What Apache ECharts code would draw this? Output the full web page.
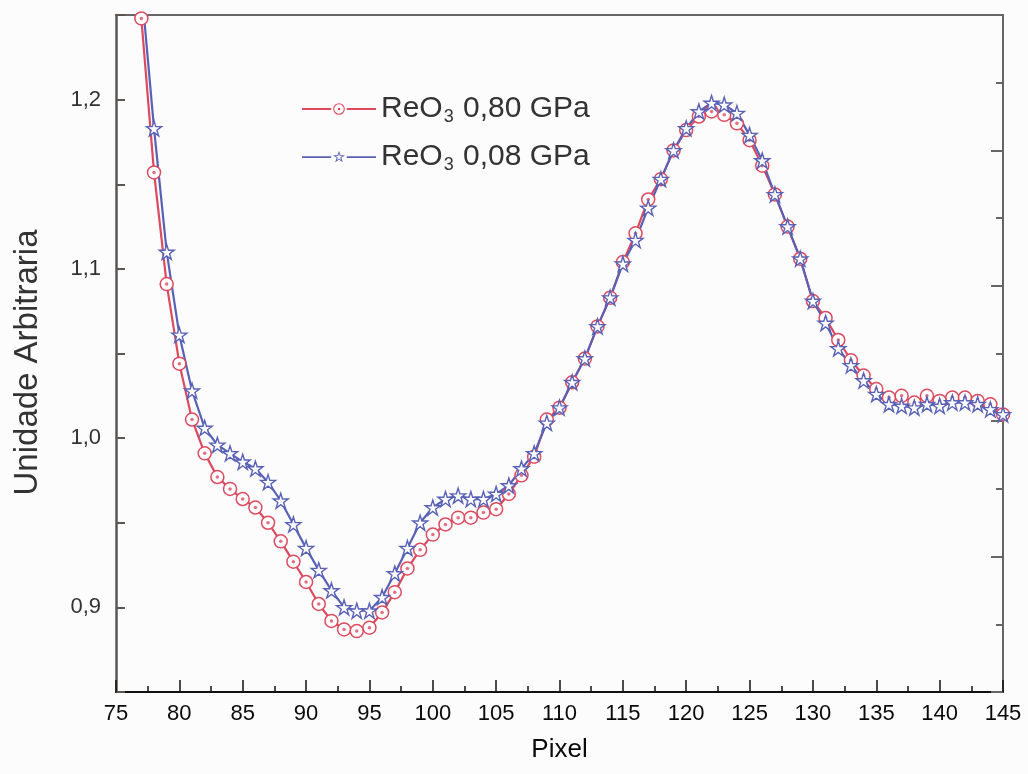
<!DOCTYPE html>
<html>
<head>
<meta charset="utf-8">
<script src="https://cdn.jsdelivr.net/npm/echarts@6/dist/echarts.min.js"></script>
<style>
  html, body { margin: 0; padding: 0; background: #fcfcfd; }
  #main { width: 1028px; height: 774px; }
</style>
</head>
<body>
<div id="main"></div>
<script>
// eixo x: pixel
var pixels = [76, 77, 78, 79, 80, 81, 82, 83, 84, 85, 86, 87, 88, 89, 90, 91, 92, 93, 94, 95,
  96, 97, 98, 99, 100, 101, 102, 103, 104, 105, 106, 107, 108, 109, 110, 111, 112, 113, 114, 115,
  116, 117, 118, 119, 120, 121, 122, 123, 124, 125, 126, 127, 128, 129, 130, 131, 132, 133, 134, 135,
  136, 137, 138, 139, 140, 141, 142, 143, 144, 145]

// ReO3 0,80 GPa (circulos)
var ua080 = [1.33, 1.248, 1.157, 1.091, 1.044, 1.011, 0.991, 0.977, 0.970, 0.964, 0.959, 0.950, 0.939, 0.927, 0.915, 0.902, 0.892, 0.887, 0.886, 0.888,
  0.897, 0.909, 0.923, 0.934, 0.943, 0.949, 0.953, 0.953, 0.956, 0.958, 0.967, 0.978, 0.989, 1.011, 1.018, 1.033, 1.047, 1.066, 1.083, 1.104,
  1.121, 1.141, 1.153, 1.170, 1.182, 1.190, 1.193, 1.191, 1.186, 1.176, 1.161, 1.144, 1.125, 1.106, 1.081, 1.071, 1.058, 1.046, 1.037, 1.029,
  1.024, 1.025, 1.021, 1.025, 1.022, 1.024, 1.024, 1.022, 1.020, 1.014]

// ReO3 0,08 GPa (estrelas)
var ua008 = [1.36, 1.267, 1.183, 1.110, 1.061, 1.028, 1.006, 0.996, 0.991, 0.986, 0.982, 0.974, 0.963, 0.949, 0.935, 0.922, 0.910, 0.900, 0.898, 0.898,
  0.906, 0.920, 0.935, 0.950, 0.959, 0.964, 0.966, 0.964, 0.964, 0.967, 0.972, 0.982, 0.991, 1.009, 1.018, 1.033, 1.047, 1.066, 1.083, 1.103,
  1.117, 1.136, 1.153, 1.170, 1.183, 1.193, 1.198, 1.197, 1.192, 1.179, 1.164, 1.144, 1.125, 1.106, 1.081, 1.068, 1.053, 1.043, 1.034, 1.026,
  1.020, 1.019, 1.018, 1.020, 1.019, 1.021, 1.021, 1.020, 1.017, 1.014]

var seriesNames = ['ReO3 0,80 GPa', 'ReO3 0,08 GPa']
var xTicks = { min: 75, max: 145, step: 5 }
var yTicks = { min: 0.85, max: 1.25, step: 0.05 }

var red = '#dc4a5e'
var blue = '#5861b6'
var font = 'Liberation Sans, Arial, sans-serif'

// estrela: pontos do contorno
function starPts(cx, cy, R) {
  var pts = []
  for (var i = 0; i < 10; i++) {
    var a = -Math.PI / 2 + i * Math.PI / 5
    var r = i % 2 ? R * 0.382 : R
    pts.push([cx + r * Math.cos(a), cy + r * Math.sin(a)])
  }
  return pts
}
function poly(pts) {
  return 'M' + pts.map(function (p) { return p[0].toFixed(2) + ' ' + p[1].toFixed(2) }).join(' L') + ' Z '
}
function ring(cx, cy, r) {
  // circulo no sentido horario / anti-horario para fazer o furo
  return 'M' + cx + ' ' + (cy - r) + ' A' + r + ' ' + r + ' 0 1 1 ' + cx + ' ' + (cy + r) + ' A' + r + ' ' + r + ' 0 1 1 ' + cx + ' ' + (cy - r) + ' Z '
}
function ringRev(cx, cy, r) {
  return 'M' + cx + ' ' + (cy - r) + ' A' + r + ' ' + r + ' 0 1 0 ' + cx + ' ' + (cy + r) + ' A' + r + ' ' + r + ' 0 1 0 ' + cx + ' ' + (cy - r) + ' Z '
}

var starSymbol = 'path://' + poly(starPts(0, 0, 10))

// icones da legenda: linha - simbolo - linha
var circleIcon = 'path://M0 5.1 H30 V7.0 H0 Z M46 5.1 H76 V7.0 H46 Z ' + ring(38, 6, 6) + ringRev(38, 6, 4.9) + ring(38, 6, 1.3)
var sp = starPts(38, 6.6, 6.6)
var spIn = starPts(38, 6.6, 3.6).reverse()
var starIcon = 'path://M0 5.6 H30 V7.5 H0 Z M46 5.6 H76 V7.5 H46 Z ' + poly(sp) + poly(spIn)

var pts080 = pixels.map(function (x, i) { return [x, ua080[i]] })
var pts008 = pixels.map(function (x, i) { return [x, ua008[i]] })

var myChart = echarts.init(document.getElementById('main'))

var option = {
  animation: false,
  backgroundColor: '#fcfcfd',
  grid: { left: 116, right: 25, top: 15, bottom: 82, containLabel: false },
  legend: {
    orient: 'vertical',
    left: 297,
    top: 89,
    itemWidth: 74,
    itemHeight: 13,
    itemGap: 15,
    data: [
      { name: seriesNames[0], icon: circleIcon, itemStyle: { color: red, borderWidth: 0 } },
      { name: seriesNames[1], icon: starIcon, itemStyle: { color: blue, borderWidth: 0 } }
    ],
    formatter: function (name) {
      return '{a|ReO}{s|3}{a|' + name.replace('ReO3', '') + '}'
    },
    textStyle: {
      rich: {
        a: { fontFamily: font, fontSize: 30, color: '#333' },
        s: { fontFamily: font, fontSize: 18, color: '#333', padding: [17, 1, 0, 1] }
      }
    }
  },
  xAxis: [{
    type: 'value',
    min: xTicks.min,
    max: xTicks.max,
    interval: xTicks.step,
    name: 'Pixel',
    nameLocation: 'middle',
    nameGap: 45,
    nameTextStyle: { fontFamily: font, fontSize: 26, color: '#0a0a0a', verticalAlign: 'top' },
    axisLine: { onZero: false, lineStyle: { color: '#111', width: 2 } },
    axisTick: { inside: true, length: 12, lineStyle: { color: '#111', width: 1.5 } },
    minorTick: { show: true, splitNumber: 2, length: 6, lineStyle: { color: '#111', width: 1.5 } },
    axisLabel: { fontFamily: font, fontSize: 22, color: '#0a0a0a', margin: 11 },
    splitLine: { show: false }
  }, {
    type: 'value',
    position: 'top',
    min: xTicks.min,
    max: xTicks.max,
    axisLine: { onZero: false, lineStyle: { color: '#666', width: 2 } },
    axisTick: { show: false },
    axisLabel: { show: false },
    splitLine: { show: false }
  }],
  yAxis: [{
    type: 'value',
    min: yTicks.min,
    max: yTicks.max,
    interval: yTicks.step,
    name: 'Unidade Arbitraria',
    nameLocation: 'middle',
    nameRotate: 90,
    nameGap: 72,
    nameTextStyle: { fontFamily: font, fontSize: 33, color: '#333', padding: [0, 18, 0, 0] },
    axisLine: { onZero: false, lineStyle: { color: '#5b5652', width: 2.5 } },
    axisTick: { inside: true, length: 9, lineStyle: { color: '#5b5652', width: 2 } },
    axisLabel: {
      fontFamily: font, fontSize: 22, color: '#333', margin: 15,
      formatter: function (v) {
        var t = Math.round(v * 100)
        return t % 10 === 0 ? (t / 100).toFixed(1).replace('.', ',') : ''
      }
    },
    splitLine: { show: false }
  }, {
    // eixo da direita so com marcas
    type: 'value',
    position: 'right',
    min: 0,
    max: 5,
    interval: 1,
    axisLine: { onZero: false, lineStyle: { color: '#666', width: 2 } },
    axisTick: { inside: true, length: 12, lineStyle: { color: '#666', width: 2 } },
    minorTick: { show: true, splitNumber: 2, length: 7, lineStyle: { color: '#666', width: 2 } },
    axisLabel: { show: false },
    splitLine: { show: false }
  }],
  series: [{
    name: seriesNames[0],
    type: 'line',
    data: pts080,
    symbol: 'circle',
    symbolSize: 13,
    itemStyle: { color: '#fff', borderColor: red, borderWidth: 1.5 },
    lineStyle: { color: red, width: 2.2 },
    clip: true,
    z: 2
  }, {
    // ponto central dos circulos
    name: 'dot080',
    type: 'scatter',
    data: pts080,
    symbol: 'circle',
    symbolSize: 3.5,
    itemStyle: { color: red },
    silent: true,
    clip: true,
    z: 2
  }, {
    name: seriesNames[1],
    type: 'line',
    data: pts008,
    symbol: starSymbol,
    symbolSize: 15,
    itemStyle: { color: '#fff', borderColor: blue, borderWidth: 1.4 },
    lineStyle: { color: blue, width: 2.2 },
    clip: true,
    z: 2
  }]
}

myChart.setOption(option)
</script>
</body>
</html>
